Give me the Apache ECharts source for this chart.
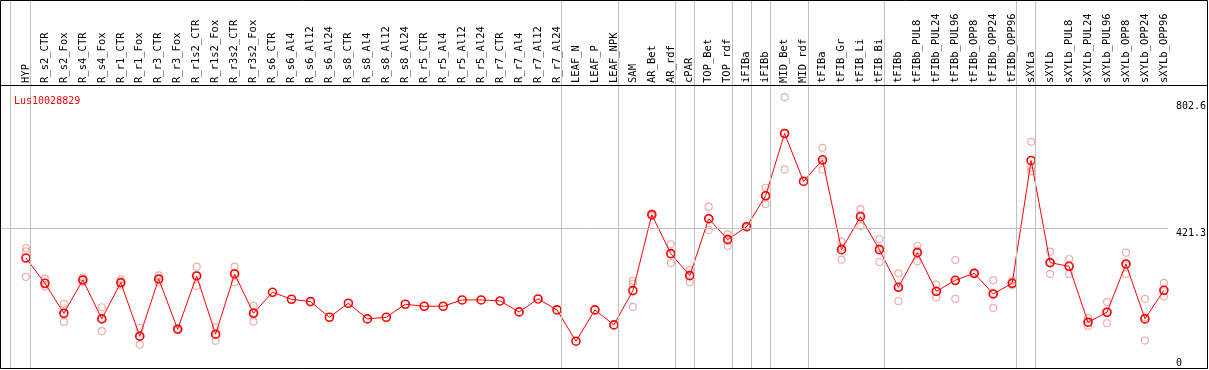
<!DOCTYPE html>
<html><head><meta charset="utf-8">
<script src="https://cdn.jsdelivr.net/npm/echarts@6/dist/echarts.min.js"></script>
<style>html,body{margin:0;padding:0;background:#fff}#c{width:1209px;height:370px}</style>
</head><body><div id="c"></div>
<script>
const categories = ['HYP','R_s2_CTR','R_s2_Fox','R_s4_CTR','R_s4_Fox','R_r1_CTR','R_r1_Fox','R_r3_CTR','R_r3_Fox','R_r1s2_CTR','R_r1s2_Fox','R_r3s2_CTR','R_r3s2_Fox','R_s6_CTR','R_s6_Al4','R_s6_Al12','R_s6_Al24','R_s8_CTR','R_s8_Al4','R_s8_Al12','R_s8_Al24','R_r5_CTR','R_r5_Al4','R_r5_Al12','R_r5_Al24','R_r7_CTR','R_r7_Al4','R_r7_Al12','R_r7_Al24','LEAF_N','LEAF_P','LEAF_NPK','SAM','AR_Bet','AR_rdf','cPAR','TOP_Bet','TOP_rdf','iFIBa','iFIBb','MID_Bet','MID_rdf','tFIBa','tFIB_Gr','tFIB_Li','tFIB_Bi','tFIBb','tFIBb_PUL8','tFIBb_PUL24','tFIBb_PUL96','tFIBb_OPP8','tFIBb_OPP24','tFIBb_OPP96','sXYLa','sXYLb','sXYLb_PUL8','sXYLb_PUL24','sXYLb_PUL96','sXYLb_OPP8','sXYLb_OPP24','sXYLb_OPP96'];
const means = [332,256,166,266,149,258,97,269,118,278,103,284,166,229,208,201,154,196,149,154,193,187,187,206,206,203,170,209,176,82,176,131,234,462,345,279,450,387,426,519,706,562,627,357,456,357,244,348,232,265,286,224,256,625,318,307,139,169,314,149,235];
const rep1 = [362,270,194,273,184,268,122,280,120,306,124,306,189,null,null,null,null,null,null,null,null,null,null,null,null,null,null,null,null,null,null,null,263,466,373,296,486,403,428,543,815,null,663,381,479,389,286,368,252,326,288,265,264,681,351,329,152,200,348,209,257];
const rep2 = [352,252,163,266,150,257,97,268,117,280,102,287,168,null,null,null,null,null,null,null,null,null,null,null,null,null,null,null,null,null,null,null,254,462,344,282,450,390,426,520,706,null,622,363,461,362,244,354,230,261,286,225,254,604,319,308,137,170,310,154,232];
const rep3 = [275,246,140,259,112,250,72,259,116,248,83,259,141,null,null,null,null,null,null,null,null,null,null,null,null,null,null,null,null,null,null,null,185,458,317,259,416,368,424,494,598,null,597,327,428,320,202,322,214,209,284,182,250,592,284,284,128,136,284,84,216];
const yTicks = [0, 421.3, 802.6];
const groupEnds = [0,28,31,34,35,37,38,39,41,45,52,53,60];
const geneName = 'Lus10028829';

const FONT = '"DejaVu Sans Mono", monospace';
const chart = echarts.init(document.getElementById('c'), null, {renderer: 'canvas'});
const repData = [];
[rep1, rep2, rep3].forEach(r => r.forEach((v, i) => { if (v != null) repData.push([i, v]); }));
const vLines = [{xAxis: -16 / 19}].concat(groupEnds.map(i => ({xAxis: i + 4.5 / 19})));
const lineStyleGray = {color: '#c0c0c0', width: 1, type: 'solid'};

const option = {
  animation: false,
  title: {text: geneName, left: 9, top: 91, textStyle: {color: '#ff0000', fontSize: 10, fontWeight: 'normal', fontFamily: FONT}},
  grid: {left: 1, right: 39, top: 0, bottom: 1.5},
  xAxis: {
    type: 'value', position: 'top', min: -25 / 19, max: 1144 / 19, offset: -86,
    axisLine: {show: false}, axisTick: {show: false}, splitLine: {show: false},
    axisLabel: {customValues: categories.map((_, i) => i), formatter: v => categories[Math.round(v)] || '',
      rotate: 90, fontSize: 10.5, fontFamily: FONT, color: '#000', margin: 3}
  },
  yAxis: {
    type: 'value', position: 'right', min: 0, max: 1107,
    axisLine: {show: false}, axisTick: {show: false}, splitLine: {show: false},
    axisLabel: {customValues: yTicks, formatter: v => String(v), verticalAlign: 'top', verticalAlignMinLabel: 'bottom',
      margin: 8, fontSize: 10, fontFamily: FONT, color: '#000'}
  },
  graphic: [
    {type: 'rect', shape: {x: 0.5, y: 0.5, width: 1207, height: 368}, style: {fill: null, stroke: '#000', lineWidth: 1}, z: 100},
    {type: 'line', shape: {x1: 0, y1: 85.5, x2: 1208, y2: 85.5}, style: {stroke: '#000', lineWidth: 1}, z: 100}
  ],
  series: [
    {type: 'line', data: [], z: 1, silent: true,
      markLine: {silent: true, symbol: 'none', label: {show: false}, lineStyle: lineStyleGray,
        data: vLines.concat([{yAxis: 421.3}])}},
    {type: 'scatter', data: repData, symbol: 'circle', symbolSize: 7, z: 2,
      itemStyle: {color: 'rgba(0,0,0,0)', borderColor: '#eb9a9a', borderWidth: 1.2}},
    {type: 'line', data: means.map((v, i) => [i, v]), symbol: 'circle', symbolSize: 8, z: 3,
      lineStyle: {color: '#ff0000', width: 1},
      itemStyle: {color: 'rgba(0,0,0,0)', borderColor: '#ff0000', borderWidth: 1.6}}
  ]
};
chart.setOption(option);
</script></body></html>
